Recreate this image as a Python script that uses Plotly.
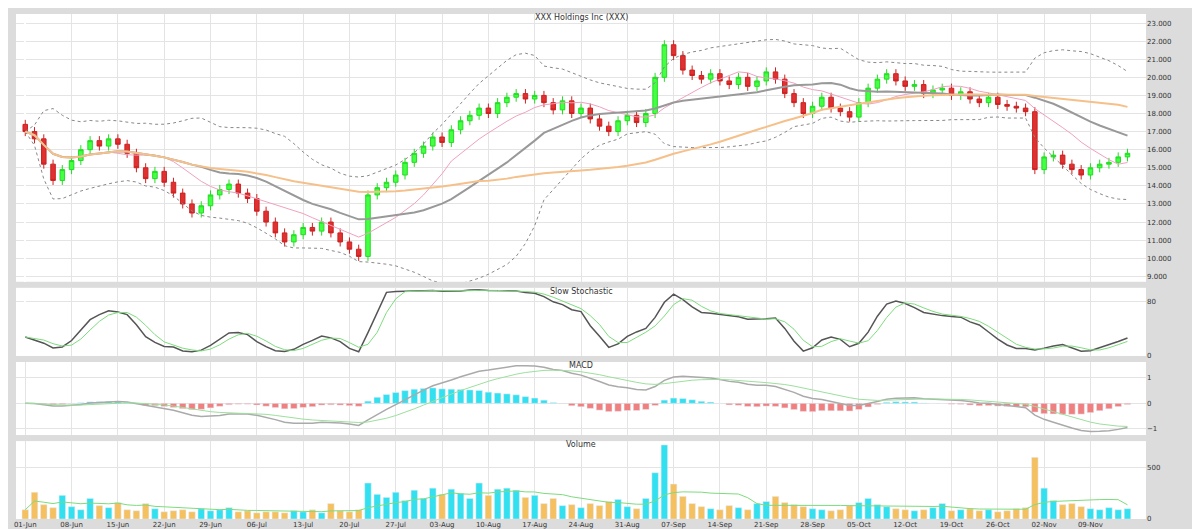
import pandas as pd
import plotly.graph_objects as go
from plotly.subplots import make_subplots

# daily closes
closes = [17.0, 16.6, 15.2, 14.3, 14.9, 15.4, 16.0, 16.5, 16.2, 16.6,
          16.3, 15.8, 15.0, 14.4, 14.8, 14.2, 13.6, 13.0, 12.5, 12.9,
          13.5, 13.8, 14.1, 13.6, 13.3, 12.6, 12.0, 11.4, 10.9, 11.3,
          11.7, 11.5, 12.0, 11.4, 10.9, 10.5, 10.1, 13.5, 13.9, 14.2,
          14.6, 15.3, 15.8, 16.2, 16.7, 16.4, 17.1, 17.6, 17.9, 18.3,
          18.0, 18.6, 18.9, 19.1, 18.8, 19.0, 18.6, 18.2, 18.7, 18.0,
          18.3, 17.7, 17.3, 17.0, 17.6, 17.9, 17.5, 18.0, 20.0, 21.8,
          21.2, 20.4, 20.1, 19.9, 20.2, 19.8, 19.6, 20.0, 19.5, 19.8,
          20.3, 19.9, 19.1, 18.6, 18.0, 18.4, 18.9, 18.3, 18.1, 17.8,
          18.6, 19.4, 19.9, 20.2, 19.8, 19.5, 19.6, 19.1, 19.3, 19.4,
          19.0, 19.2, 18.8, 18.6, 18.9, 18.5, 18.4, 18.3, 18.1, 14.9,
          15.6, 15.7, 15.2, 14.9, 14.6, 15.0, 15.2, 15.3, 15.6, 15.8]
first_open = 17.4

volumes = [90, 260, 140, 110, 230, 120, 90, 200, 130, 110,
           160, 90, 80, 150, 100, 70, 80, 90, 70, 100,
           80, 90, 110, 70, 80, 60, 70, 70, 60, 80,
           70, 90, 60, 150, 80, 70, 90, 350, 240, 210,
           260, 180, 280, 200, 300, 240, 290, 250, 200, 350,
           230, 290, 300, 280, 210, 230, 150, 200, 130, 140,
           110, 150, 130, 170, 190, 120, 100, 200, 450, 720,
           340, 220, 150, 120, 100, 90, 130, 110, 90, 150,
           170, 220, 160, 140, 120, 100, 90, 80, 90, 130,
           160, 200, 140, 120, 100, 90, 80, 90, 110, 150,
           80, 90, 100, 80, 90, 70, 80, 100, 110, 600,
           300, 180, 140, 150, 120, 100, 90, 110, 90, 100]

dates = pd.bdate_range("2015-06-01", periods=len(closes))
tick_labels = [d.strftime("%d-%b") for d in dates]

df = pd.DataFrame({"close": closes, "volume": volumes})
df["open"] = df["close"].shift(1).fillna(first_open)
df["high"] = df[["open", "close"]].max(axis=1) + 0.25
df["low"] = df[["open", "close"]].min(axis=1) - 0.25
x = list(range(len(df)))

ma10 = df["close"].rolling(10, min_periods=1).mean()
ma20 = df["close"].rolling(20, min_periods=1).mean()
ma50 = df["close"].rolling(50, min_periods=1).mean()
sd20 = df["close"].rolling(20, min_periods=1).std().fillna(0)
bb_up, bb_lo = ma20 + 2 * sd20, ma20 - 2 * sd20

low14 = df["low"].rolling(14, min_periods=1).min()
high14 = df["high"].rolling(14, min_periods=1).max()
k = (100 * (df["close"] - low14) / (high14 - low14)).rolling(3, min_periods=1).mean()
d = k.rolling(3, min_periods=1).mean()

ema12 = df["close"].ewm(span=12).mean()
ema26 = df["close"].ewm(span=26).mean()
macd = ema12 - ema26
signal = macd.ewm(span=9).mean()
hist = macd - signal

up = df["close"] >= df["open"]

fig = make_subplots(rows=4, cols=1, shared_xaxes=True, vertical_spacing=0.012,
                    row_heights=[0.55, 0.14, 0.15, 0.16],
                    subplot_titles=("XXX Holdings Inc (XXX)", "Slow Stochastic", "MACD", "Volume"))

fig.add_trace(go.Candlestick(x=x, open=df["open"], high=df["high"], low=df["low"], close=df["close"],
                             increasing=dict(line=dict(color="#22dd22", width=1), fillcolor="#44ff44"),
                             decreasing=dict(line=dict(color="#cc2222", width=1), fillcolor="#e03030"),
                             whiskerwidth=0), row=1, col=1)
fig.add_trace(go.Scatter(x=x, y=bb_up, line=dict(color="#888", width=1, dash="dot")), row=1, col=1)
fig.add_trace(go.Scatter(x=x, y=bb_lo, line=dict(color="#888", width=1, dash="dot")), row=1, col=1)
fig.add_trace(go.Scatter(x=x, y=ma10, line=dict(color="#f0a0c0", width=1)), row=1, col=1)
fig.add_trace(go.Scatter(x=x, y=ma20, line=dict(color="#999", width=2)), row=1, col=1)
fig.add_trace(go.Scatter(x=x, y=ma50, line=dict(color="#f5c08a", width=2)), row=1, col=1)

fig.add_trace(go.Scatter(x=x, y=k, line=dict(color="#555", width=1.5)), row=2, col=1)
fig.add_trace(go.Scatter(x=x, y=d, line=dict(color="#7ddc7d", width=1)), row=2, col=1)

fig.add_trace(go.Bar(x=x, y=hist, marker_color=["#33e0f0" if h >= 0 else "#f08080" for h in hist]), row=3, col=1)
fig.add_trace(go.Scatter(x=x, y=macd, line=dict(color="#aaa", width=1.5)), row=3, col=1)
fig.add_trace(go.Scatter(x=x, y=signal, line=dict(color="#9ce09c", width=1)), row=3, col=1)

fig.add_trace(go.Bar(x=x, y=df["volume"], marker_color=["#33e0f0" if u else "#f5c060" for u in up]), row=4, col=1)
fig.add_trace(go.Scatter(x=x, y=df["volume"].rolling(10, min_periods=1).mean(),
                         line=dict(color="#7ddc7d", width=1)), row=4, col=1)

fig.update_layout(width=1200, height=529, showlegend=False, plot_bgcolor="white", paper_bgcolor="#dcdcdc",
                  margin=dict(l=8, r=62, t=6, b=18), bargap=0.3,
                  font=dict(family="DejaVu Sans", size=8, color="#333"))
fig.update_annotations(font_size=8, yshift=-10)
fig.update_xaxes(showgrid=True, gridcolor="#e4e4e4", rangeslider_visible=False,
                 tickvals=x[::5], ticktext=tick_labels[::5], tickfont_size=7, range=[-1, len(x) + 1])
fig.update_yaxes(side="right", showgrid=True, gridcolor="#e4e4e4", tickfont_size=7, zeroline=False)
fig.update_yaxes(range=[8.7, 23.5], dtick=1, tickformat=".3f", row=1, col=1)
fig.update_yaxes(range=[0, 100], tickvals=[0, 80], row=2, col=1)
fig.update_yaxes(row=3, col=1, nticks=3)
fig.update_yaxes(row=4, col=1, nticks=3)

fig.write_html("out.html")
